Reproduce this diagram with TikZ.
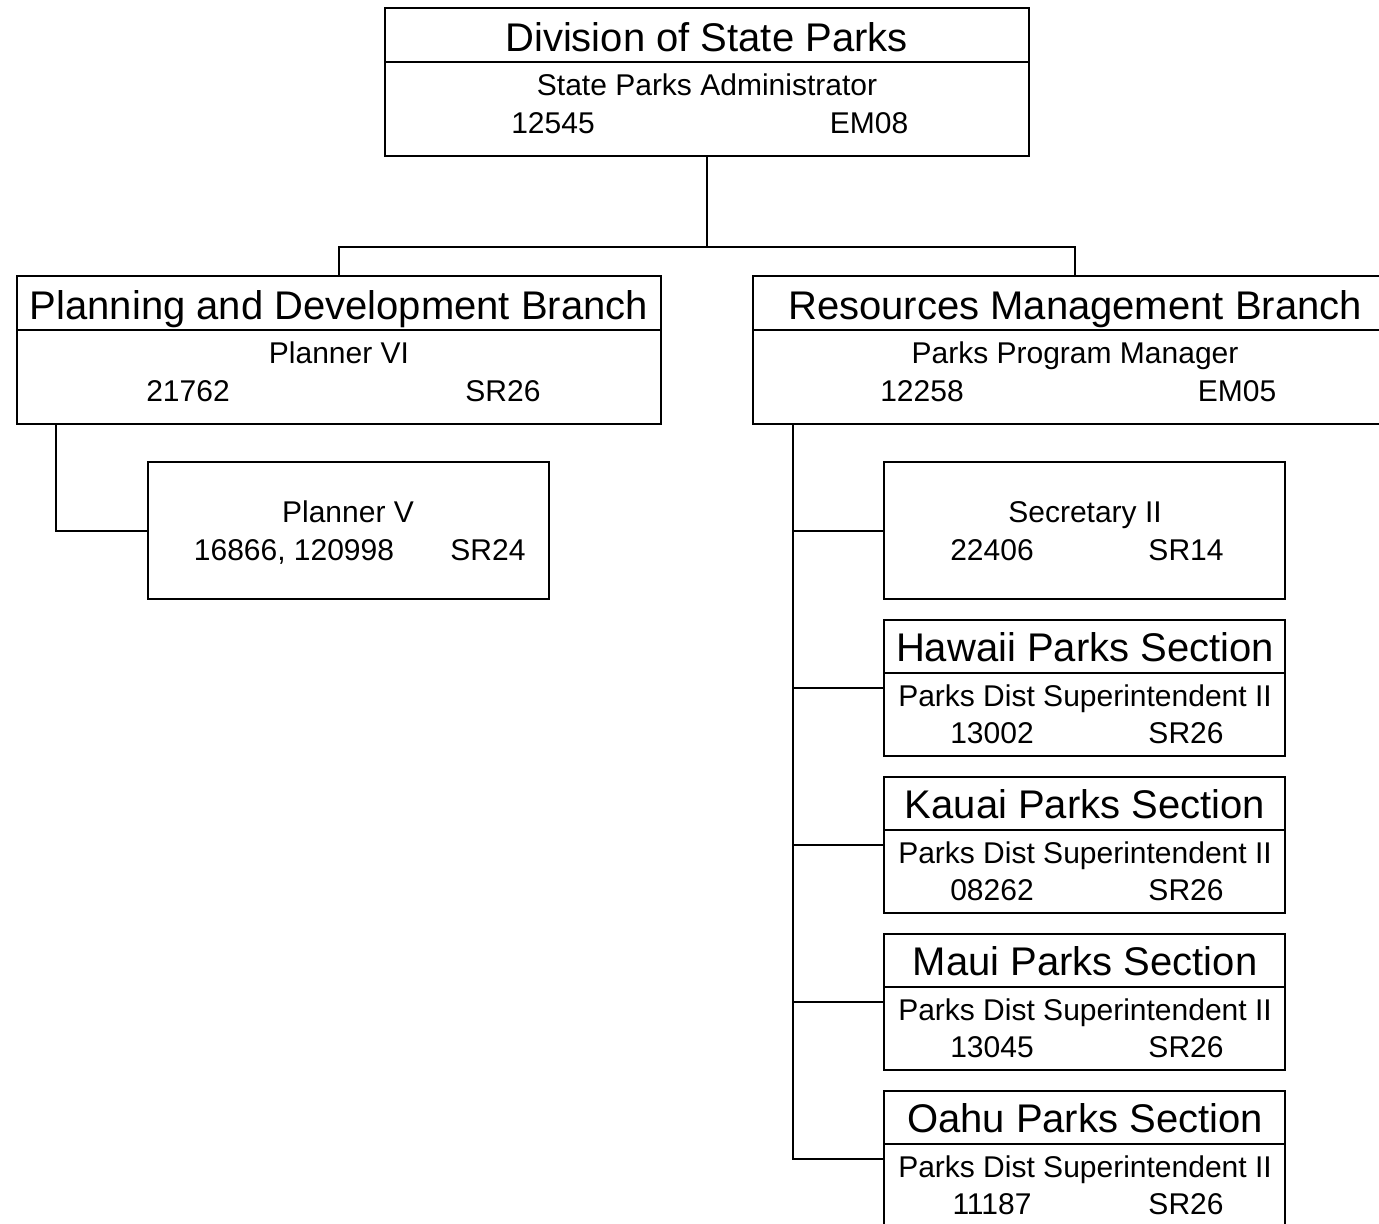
\documentclass[tikz,border=0pt]{standalone}
\usepackage{fontspec}
\setmainfont{Liberation Sans}
\tikzset{
  box/.style={draw, line width=1pt, inner sep=0pt, fill=white},
  bigbox/.style={box, minimum width=322pt, minimum height=74pt},
  smallbox/.style={box, minimum width=200.5pt, minimum height=68.5pt},
  secbox/.style={box, minimum width=200.5pt, minimum height=68pt},
  ttl/.style={inner sep=0pt, anchor=base, font=\fontsize{20}{24}\selectfont},
  txt/.style={inner sep=0pt, anchor=base, font=\fontsize{15}{18}\selectfont},
  conn/.style={line width=1pt},
}
\begin{document}
\begin{tikzpicture}[x=0.5pt, y=-0.5pt]
\useasboundingbox (0,0) rectangle (1379,1223);
\clip (0,0) rectangle (1379,1223);
\fill[white] (0,0) rectangle (1379,1223);

% boxes
\node[bigbox] (top) at (707,82) {};
\node[bigbox] (pdb) at (339,350) {};
\node[bigbox] (rmb) at (1075,350) {};
\node[smallbox] (p5) at (348.5,530.5) {};
\node[smallbox] (sec) at (1084.5,530.5) {};
\node[secbox] (haw) at (1084.5,688) {};
\node[secbox] (kau) at (1084.5,845) {};
\node[secbox] (mau) at (1084.5,1002) {};
\node[secbox] (oah) at (1084.5,1159) {};

% dividers
\foreach \b in {top,pdb,rmb}
  \draw[conn] ([yshift=-27.5pt]\b.north west) -- ([yshift=-27.5pt]\b.north east);
\foreach \b in {haw,kau,mau,oah}
  \draw[conn] ([yshift=-27pt]\b.north west) -- ([yshift=-27pt]\b.north east);

% connectors
\coordinate (j) at (707,247);
\draw[conn] (top.south) -- (j);
\draw[conn] (pdb.north) |- (j) -| (rmb.north);
\coordinate (pl) at (56,424);
\draw[conn] (pl) |- (p5.west);
\coordinate (rl) at (793,424);
\draw[conn] (rl) |- (oah.west);
\foreach \b in {sec,haw,kau,mau}
  \draw[conn] (rl |- \b.west) -- (\b.west);

% texts: top
\node[ttl] (top-t) at (706.5,51) {Division of State Parks};
\node[txt] (top-a) at (707,95) {State Parks Administrator};
\node[txt] (top-n) at (553,133) {12545};
\node[txt] (top-g) at (869,133) {EM08};
% planning
\node[ttl] (pdb-t) at (339,319) {Planning and Development Branch};
\node[txt] (pdb-a) at (339,363) {Planner VI};
\node[txt] (pdb-n) at (188,401) {21762};
\node[txt] (pdb-g) at (503,401) {SR26};
% resources
\node[ttl] (rmb-t) at (1075,319) {Resources Management Branch};
\node[txt] (rmb-a) at (1075,363) {Parks Program Manager};
\node[txt] (rmb-n) at (922,401) {12258};
\node[txt] (rmb-g) at (1237,401) {EM05};
% planner V
\node[txt] (p5-a) at (348,522) {Planner V};
\node[txt] (p5-n) at (294,560) {16866, 120998};
\node[txt] (p5-g) at (488,560) {SR24};
% secretary
\node[txt] (sec-a) at (1085,522) {Secretary II};
\node[txt] (sec-n) at (992,560) {22406};
\node[txt] (sec-g) at (1186,560) {SR14};
% sections
\foreach \b/\t/\n/\yy in {haw/Hawaii/13002/620, kau/Kauai/08262/777, mau/Maui/13045/934, oah/Oahu/11187/1091}{
  \node[ttl] (\b-t) at (1085,\yy+41) {\t{} Parks Section};
  \node[txt] (\b-a) at (1085,\yy+86) {Parks Dist Superintendent II};
  \node[txt] (\b-n) at (992,\yy+123) {\n};
  \node[txt] (\b-g) at (1186,\yy+123) {SR26};
}
\end{tikzpicture}
\end{document}
